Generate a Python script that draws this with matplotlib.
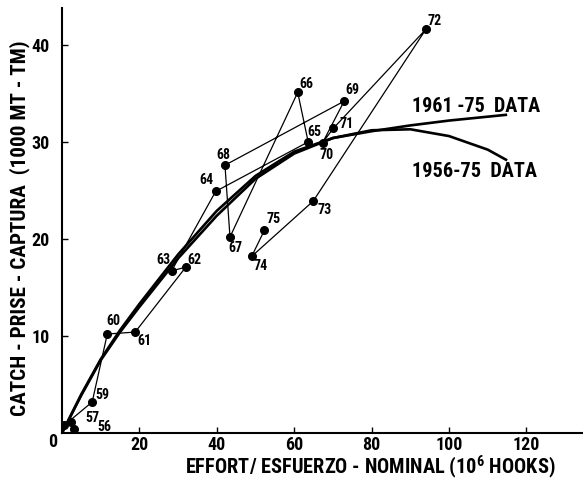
import matplotlib
matplotlib.use("Agg")
import matplotlib.pyplot as plt
from matplotlib import font_manager

# yearly points (last two digits of year), effort in 10^6 hooks, catch in 1000 MT
years = ["56", "57", "58", "59", "60", "61", "62", "63", "64", "65",
         "66", "67", "68", "69", "70", "71", "72", "73", "74", "75"]
effort = [3.0, 2.3, 0.6, 7.8, 11.7, 18.9, 32.0, 28.3, 39.7, 63.6,
          60.9, 43.4, 42.1, 72.9, 67.3, 70.1, 94.0, 64.9, 49.0, 52.3]
catch = [0.4, 1.1, 0.8, 3.2, 10.2, 10.4, 17.1, 16.7, 24.9, 30.0,
         35.1, 20.2, 27.6, 34.2, 29.9, 31.4, 41.6, 23.9, 18.2, 20.9]

# fitted production curves
curve_x = [0, 5, 10, 15, 20, 30, 40, 50, 60, 70, 80, 90, 100, 110, 115]
curve_5675 = [0, 3.9, 7.5, 10.4, 13.0, 18.0, 22.4, 26.2, 28.8, 30.4,
              31.2, 31.3, 30.6, 29.2, 28.1]
curve_6175 = [0, 4.0, 7.6, 10.6, 13.3, 18.4, 22.9, 26.5, 29.0, 30.4,
              31.1, 31.7, 32.2, 32.6, 32.8]

x_ticks = [20, 40, 60, 80, 100, 120]
y_ticks = [10, 20, 30, 40]

# label offsets in pixels (dx, dy up)
label_off = {"56": (31, 2), "57": (22, 4), "58": (0, 0), "59": (10, 7),
             "60": (6, 13), "61": (9, -9), "62": (9, 7), "63": (-8, 11),
             "64": (-9, 11), "65": (6, 10), "66": (9, 8), "67": (5, -11),
             "68": (-2, 10), "69": (8, 11), "70": (4, -12), "71": (13, 4),
             "72": (9, 8), "73": (11, -9), "74": (9, -10), "75": (9, 11)}


def pick_font():
    # look for a narrow / condensed bold face, the original lettering is very narrow
    prefs = ["robotocondensed-bold", "notosans-condensedbold", "dejavusanscondensed-bold",
             "liberationsansnarrow-bold", "opensans-condensedbold", "condensed-bold",
             "condensedbold", "narrow-bold"]
    files = {f.fname.lower().split("/")[-1]: f for f in font_manager.fontManager.ttflist}
    for p in prefs:
        for name, f in files.items():
            if name.startswith(p) or p in name:
                return f
    return None


entry = pick_font()
if entry is not None:
    FONT, STRETCH = entry.name, entry.stretch
else:
    FONT, STRETCH = "DejaVu Sans", "normal"
plt.rcParams["font.family"] = [FONT, "DejaVu Sans"]
plt.rcParams["font.weight"] = "bold"
plt.rcParams["font.stretch"] = STRETCH
plt.rcParams["mathtext.fontset"] = "custom"
plt.rcParams["mathtext.rm"] = FONT + ":bold"
plt.rcParams["mathtext.bf"] = FONT + ":bold"

fig = plt.figure(figsize=(5.83, 4.8), dpi=100)
ax = fig.add_axes([62 / 583, 47 / 480, 521 / 583, 425 / 480])

ax.plot(curve_x, curve_5675, color="black", lw=1.9, solid_capstyle="butt")
ax.plot(curve_x, curve_6175, color="black", lw=1.9, solid_capstyle="butt")
ax.plot(effort, catch, color="black", lw=0.9, marker="o", ms=5.5)

for yr, x, y in zip(years, effort, catch):
    if yr == "58":
        continue
    dx, dy = label_off[yr]
    ax.annotate(yr, (x, y), xytext=(dx, dy), textcoords="offset pixels",
                ha="center", va="center", fontsize=10)

t61 = ax.text(90.4, 33.7, "1961 -75  DATA", fontsize=18, va="center", ha="left")
t56 = ax.text(90.4, 26.9, "1956-75  DATA", fontsize=18, va="center", ha="left")

ax.set_xlim(0, 134.6)
ax.set_ylim(0, 43.8)
ax.set_xticks(x_ticks)
ax.set_yticks(y_ticks)
ax.tick_params(direction="in", length=4, width=1, labelsize=13, pad=2)
ax.tick_params(axis="y", pad=9)
for s in ("top", "right"):
    ax.spines[s].set_visible(False)
for s in ("left", "bottom"):
    ax.spines[s].set_linewidth(1.5)

ax.annotate("0", (0, 0), xytext=(-9, -9), textcoords="offset pixels",
            ha="center", va="center", fontsize=13, annotation_clip=False)

ylab = fig.text(20 / 583, 1 - 228 / 480, "CATCH - PRISE - CAPTURA  (1000 MT - TM)",
                rotation=90, ha="center", va="center", fontsize=20)
xlab = fig.text(370 / 583, 1 - 467.5 / 480,
                r"EFFORT/ ESFUERZO - NOMINAL (10$^{6}$ HOOKS)",
                ha="center", va="center", fontsize=20)

# shrink the long texts so that they span what they span in the original
fig.canvas.draw()
r = fig.canvas.get_renderer()
for t, target, vertical in [(ylab, 375, True), (xlab, 370, False),
                            (t61, 129, False), (t56, 125, False)]:
    bb = t.get_window_extent(r)
    size = bb.height if vertical else bb.width
    if size > target:
        t.set_fontsize(t.get_fontsize() * target / size)

fig.savefig("out.png", dpi=100)
